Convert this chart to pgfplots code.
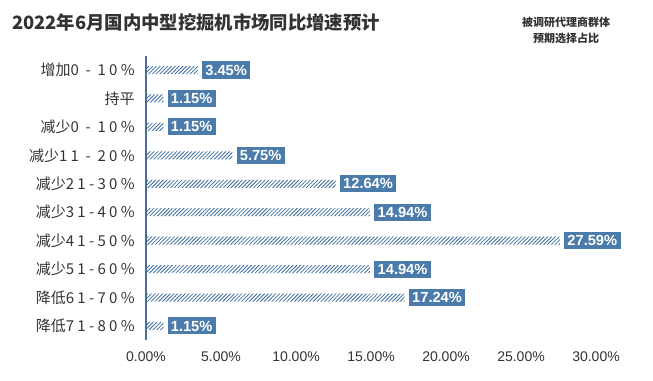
\documentclass[border=0pt]{standalone}
\usepackage{fontspec}
\setmainfont{Liberation Sans}
\newfontfamily\cjk{Noto Sans CJK SC}
\newfontfamily\cjkwide[LetterSpace=22]{Noto Sans CJK SC}
\usepackage{pgfplots}
\pgfplotsset{compat=1.18}
\usetikzlibrary{patterns.meta}
\definecolor{barblue}{HTML}{3A6A9E}
\definecolor{labblue}{HTML}{4A7BAA}
\definecolor{axisblue}{HTML}{4A6E9C}
\definecolor{txt}{HTML}{333333}
\begin{document}
\begin{tikzpicture}
\useasboundingbox (0,0) rectangle (489.75pt,-285.75pt);
\node[anchor=west, text=txt, inner sep=0pt, font=\cjk\bfseries\fontsize{13.75}{16}\selectfont] at (9pt,-16.5pt) {2022年6月国内中型挖掘机市场同比增速预计};
\node[align=center, text=txt, inner sep=0pt, font=\cjk\bfseries\fontsize{8.25}{12}\selectfont] at (424.5pt,-22.5pt) {被调研代理商群体\\预期选择占比};
\begin{axis}[
  at={(109.5pt,-255.15pt)}, anchor=south west,
  scale only axis, width=337.5pt, height=213.3pt,
  xmin=0, xmax=30, ymin=-0.5, ymax=9.5, y dir=reverse,
  clip=false,
  axis y line*=left, axis x line*=bottom,
  x axis line style={draw=none},
  y axis line style={draw=axisblue, line width=0.8pt, -},
  xtick={0,5,...,30},
  xticklabel={\pgfmathprintnumber[fixed,fixed zerofill,precision=2]{\tick}\%},
  /pgf/number format/assume math mode=true,
  xticklabel style={font=\fontsize{10.5}{12}\selectfont, text=txt, yshift=-5pt},
  ytick={0,...,9},
  yticklabels={
    {\cjk 增加}{\cjkwide 0 - 10\%},
    {\cjk 持平},
    {\cjk 减少}{\cjkwide 0 - 10\%},
    {\cjk 减少}{\cjkwide 11 - 20\%},
    {\cjk 减少}{\cjkwide 21-30\%},
    {\cjk 减少}{\cjkwide 31-40\%},
    {\cjk 减少}{\cjkwide 41-50\%},
    {\cjk 减少}{\cjkwide 51-60\%},
    {\cjk 降低}{\cjkwide 61-70\%},
    {\cjk 降低}{\cjkwide 71-80\%}},
  yticklabel style={font=\fontsize{11.25}{12}\selectfont, text=txt, xshift=-5pt},
  tick style={draw=none},
  major tick length=0pt,
]
\addplot[xbar, bar width=6pt, draw=none,
  pattern={Lines[angle=45, distance=2pt, line width=0.6pt]}, pattern color=barblue,
  nodes near coords={\pgfmathprintnumber[fixed,fixed zerofill,precision=2]{\pgfplotspointmeta}\%},
  point meta=x,
  nodes near coords style={anchor=west, xshift=3pt, fill=labblue, text=white,
    font=\bfseries\fontsize{11}{12}\selectfont, inner xsep=2.5pt, inner ysep=2.5pt}]
coordinates {
(3.45,0) (1.15,1) (1.15,2) (5.75,3) (12.64,4)
(14.94,5) (27.59,6) (14.94,7) (17.24,8) (1.15,9)
};
\end{axis}
\end{tikzpicture}
\end{document}
